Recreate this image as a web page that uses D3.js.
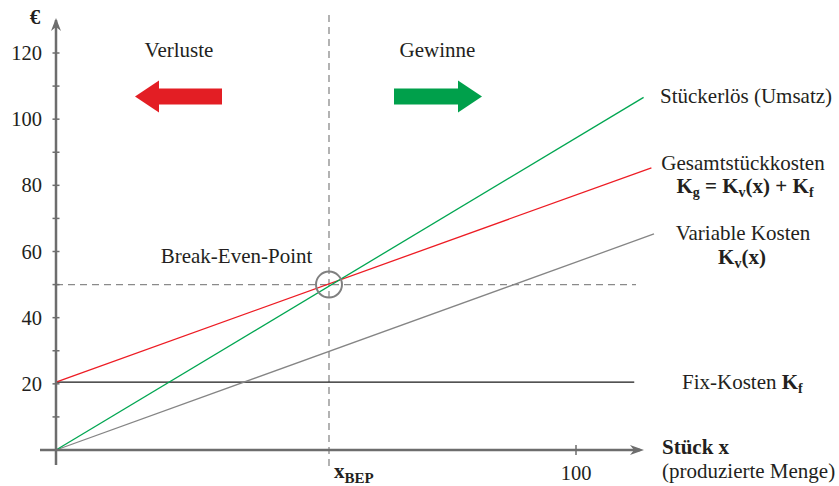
<!DOCTYPE html>
<html><head><meta charset="utf-8">
<script src="https://cdn.jsdelivr.net/npm/d3@7"></script>
<style>
body{margin:0;background:#fff;}
svg{display:block;}
</style></head>
<body><svg id="c" width="839" height="486"></svg>
<script>
// ---- data ----
const yTickLabels = [20, 40, 60, 80, 100, 120];
const yMinorTicks = [10, 20, 30, 40, 50, 60, 70, 80, 90, 100, 110, 120];
const xTickLabels = [100];
const breakEven = {x: 52.5, y: 50};
const revenue = [[0, 0], [113, 106.6]];        // Stückerlös
const totalCost = [[0, 20.5], [114.5, 85.3]];   // Gesamtstückkosten
const variableCost = [[0, 0], [115, 65.3]];     // Variable Kosten
const fixCost = [[0, 20.5], [111.2, 20.5]];     // Fix-Kosten

const svg = d3.select("#c");
const x = d3.scaleLinear().domain([0, 100]).range([56, 576]);
const y = d3.scaleLinear().domain([0, 120]).range([450, 53]);
const axisCol = "#6d6d6d";
const FONT = "Liberation Serif";
const INK = "#231f20";

// dashed BEP lines
svg.append("line").attr("x1", x(breakEven.x)).attr("x2", x(breakEven.x))
  .attr("y1", 15).attr("y2", 468)
  .attr("stroke", "#8a8a8a").attr("stroke-width", 1.3).attr("stroke-dasharray", "7,5");
svg.append("line").attr("x1", x(0)).attr("x2", 636)
  .attr("y1", y(breakEven.y)).attr("y2", y(breakEven.y))
  .attr("stroke", "#8a8a8a").attr("stroke-width", 1.3).attr("stroke-dasharray", "7,5");

// lines
const line = d3.line().x(d => x(d[0])).y(d => y(d[1]));
svg.append("path").datum(fixCost).attr("d", line).attr("stroke", "#1a1a1a").attr("stroke-width", 1.3).attr("fill", "none");
svg.append("path").datum(variableCost).attr("d", line).attr("stroke", "#858585").attr("stroke-width", 1.3).attr("fill", "none");
svg.append("path").datum(totalCost).attr("d", line).attr("stroke", "#ed1c24").attr("stroke-width", 1.3).attr("fill", "none");
svg.append("path").datum(revenue).attr("d", line).attr("stroke", "#00a651").attr("stroke-width", 1.3).attr("fill", "none");

// BEP circle
svg.append("circle").attr("cx", x(breakEven.x)).attr("cy", y(breakEven.y)).attr("r", 13)
  .attr("fill", "none").attr("stroke", "#808080").attr("stroke-width", 2);

// axes
svg.append("line").attr("x1", x(0)).attr("x2", x(0)).attr("y1", 465).attr("y2", 20)
  .attr("stroke", axisCol).attr("stroke-width", 2.5);
svg.append("path").attr("d", `M${x(0)-5},${31} L${x(0)},${18} L${x(0)+5},${31} L${x(0)},${27} Z`).attr("fill", axisCol);
svg.append("line").attr("x1", 40).attr("x2", 640).attr("y1", y(0)).attr("y2", y(0))
  .attr("stroke", axisCol).attr("stroke-width", 2.5);
svg.append("path").attr("d", `M${630},${y(0)-5} L${644},${y(0)} L${630},${y(0)+5} L${634},${y(0)} Z`).attr("fill", axisCol);

svg.selectAll(".ytick").data(yMinorTicks).join("line")
  .attr("x1", x(0) - 3.5).attr("x2", x(0) + 3.5).attr("y1", d => y(d)).attr("y2", d => y(d))
  .attr("stroke", axisCol).attr("stroke-width", 1.5);
svg.selectAll(".ylab").data(yTickLabels).join("text")
  .attr("x", 42).attr("y", d => y(d) + 7).attr("text-anchor", "end").attr("font-family", FONT)
  .attr("font-size", 20.5).attr("fill", INK).text(d => d);
svg.selectAll(".xtick").data(xTickLabels).join("line")
  .attr("x1", d => x(d)).attr("x2", d => x(d)).attr("y1", y(0) - 5).attr("y2", y(0) + 5)
  .attr("stroke", axisCol).attr("stroke-width", 1.5);
svg.selectAll(".xlab").data(xTickLabels).join("text")
  .attr("x", d => x(d)).attr("y", 480).attr("text-anchor", "middle").attr("font-family", FONT)
  .attr("font-size", 20.5).attr("fill", INK).text(d => d);

const T = (xx, yy, txt, size, anchor, weight) => svg.append("text").attr("x", xx).attr("y", yy)
  .attr("font-family", FONT)
  .attr("font-size", size).attr("text-anchor", anchor || "start").attr("font-weight", weight || "normal")
  .attr("fill", INK).text(txt);

T(35, 24, "€", 21, "middle", "bold");

// x_BEP
const xb = svg.append("text").attr("x", x(breakEven.x) + 5).attr("y", 478).attr("font-family", FONT).attr("font-weight", "bold").attr("fill", INK);
xb.append("tspan").attr("font-size", 21).text("x");
xb.append("tspan").attr("font-size", 15).attr("dy", 5).text("BEP");

// Verluste / Gewinne
T(179, 57, "Verluste", 21, "middle");
T(437.5, 57, "Gewinne", 21, "middle");
svg.append("path").attr("d", "M135,96.5 L159,80.5 L159,88.5 L222,88.5 L222,104.5 L159,104.5 L159,112.5 Z").attr("fill", "#e31e24");
svg.append("path").attr("d", "M482,96.5 L458,80.5 L458,88.5 L394,88.5 L394,104.5 L458,104.5 L458,112.5 Z").attr("fill", "#00a04b");

T(236.5, 263, "Break-Even-Point", 21, "middle");

// right labels
T(660, 103, "Stückerlös (Umsatz)", 21, "start");
T(743, 170, "Gesamtstückkosten", 21, "middle");
const kg = svg.append("text").attr("x", 745).attr("y", 193).attr("text-anchor", "middle").attr("font-family", FONT).attr("font-weight", "bold").attr("font-size", 21).attr("fill", INK);
kg.append("tspan").text("K");
kg.append("tspan").attr("font-size", 14).attr("dy", 4).text("g");
kg.append("tspan").attr("dy", -4).text(" = K");
kg.append("tspan").attr("font-size", 14).attr("dy", 4).text("v");
kg.append("tspan").attr("dy", -4).text("(x) + K");
kg.append("tspan").attr("font-size", 14).attr("dy", 4).text("f");
T(743, 240, "Variable Kosten", 21, "middle");
const kv = svg.append("text").attr("x", 742).attr("y", 264).attr("text-anchor", "middle").attr("font-family", FONT).attr("font-weight", "bold").attr("font-size", 21).attr("fill", INK);
kv.append("tspan").text("K");
kv.append("tspan").attr("font-size", 14).attr("dy", 4).text("v");
kv.append("tspan").attr("dy", -4).text("(x)");
const kf = svg.append("text").attr("x", 682).attr("y", 389).attr("font-family", FONT).attr("font-size", 21).attr("fill", INK);
kf.append("tspan").text("Fix-Kosten ");
kf.append("tspan").attr("font-weight", "bold").attr("font-size", 21).text("K");
kf.append("tspan").attr("font-weight", "bold").attr("font-size", 14).attr("dy", 4).text("f");

T(662, 454, "Stück x", 21, "start", "bold");
T(662, 478, "(produzierte Menge)", 21, "start");
</script></body></html>
